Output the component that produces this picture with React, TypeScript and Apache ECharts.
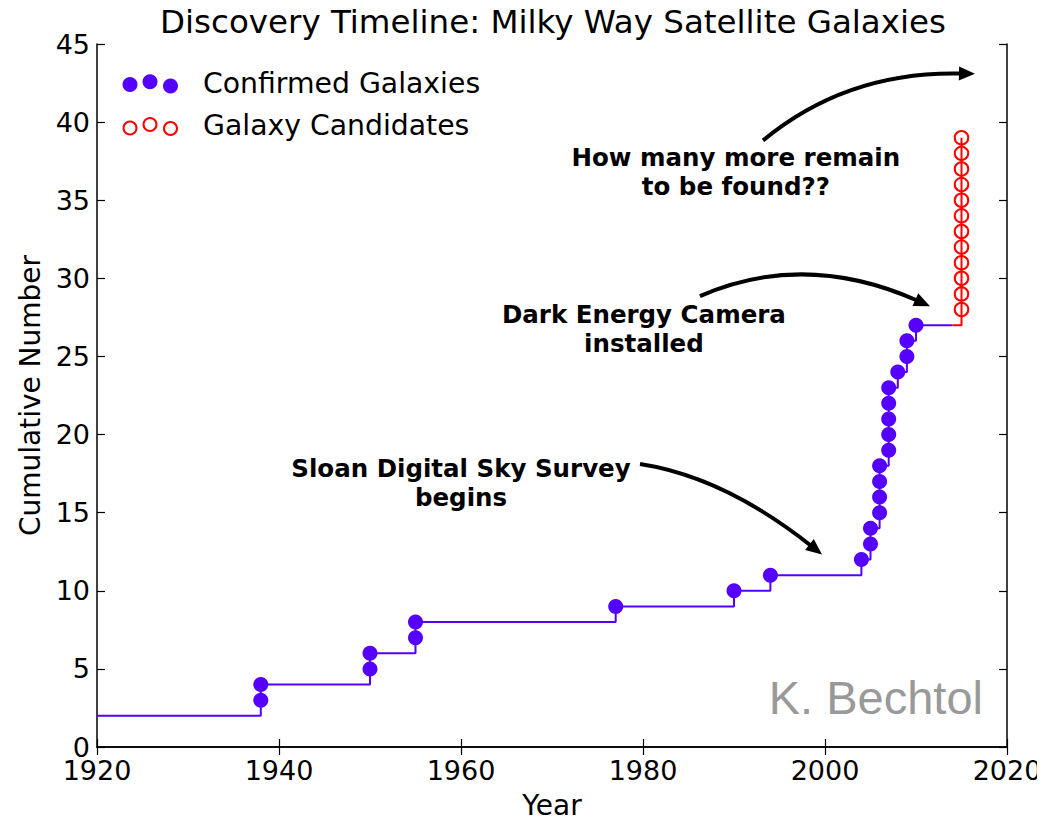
import React, { useEffect, useRef } from "react";
import * as echarts from "echarts";

// ---- data ----
const confirmedYears = [1938, 1938, 1950, 1950, 1955, 1955, 1977, 1990, 1994, 2004, 2005, 2005, 2006, 2006, 2006, 2006, 2007, 2007, 2007, 2007, 2007, 2008, 2009, 2009, 2010];
const confirmedCounts = [3, 4, 5, 6, 7, 8, 9, 10, 11, 12, 13, 14, 15, 16, 17, 18, 19, 20, 21, 22, 23, 24, 25, 26, 27];
const lineStart = [1920, 2];
const confirmedLineEnd = [2014, 27];
const candidateYears = [2015, 2015, 2015, 2015, 2015, 2015, 2015, 2015, 2015, 2015, 2015, 2015];
const candidateCounts = [28, 29, 30, 31, 32, 33, 34, 35, 36, 37, 38, 39];
const candidateLineStart = [2014, 27];

const xMin = 1920, xMax = 2020, xStep = 20;
const yMin = 0, yMax = 45, yStep = 5;

const titleText = "Discovery Timeline: Milky Way Satellite Galaxies";
const xName = "Year";
const yName = "Cumulative Number";
const legendNames = ["Confirmed Galaxies", "Galaxy Candidates"];
const credit = "K. Bechtol";

// annotations in data coordinates
const annotations = [
  { text: "Sloan Digital Sky Survey\nbegins", at: [1960.0, 16.87], from: [1979.67, 18.11], ctrl: [1988.9, 17.29], to: [1999.67, 12.33] },
  { text: "Dark Energy Camera\ninstalled", at: [1980.1, 26.76], from: [1986.26, 28.86], ctrl: [1997.69, 31.78], to: [2011.54, 28.22] },
  { text: "How many more remain\nto be found??", at: [1990.2, 36.8], from: [1993.19, 38.83], ctrl: [2002.42, 43.28], to: [2016.48, 43.09] },
];

const PURPLE = "#5500ff";
const RED = "#ff0000";
const FONT = "DejaVu Sans";

export default function App() {
  const ref = useRef<HTMLDivElement>(null);
  useEffect(() => {
    if (!ref.current) return;
    const chart = echarts.init(ref.current, null, { renderer: "svg" });

    const confirmedLine = [lineStart, ...confirmedYears.map((y, i) => [y, confirmedCounts[i]]), confirmedLineEnd];
    const candidateLine = [candidateLineStart, ...candidateYears.map((y, i) => [y, candidateCounts[i]])];

    const axisLine = { show: true, lineStyle: { color: "#000", width: 1.5 } };
    const axisTick = { show: true, inside: true, length: 8, lineStyle: { color: "#000", width: 1.2 } };
    const labelStyle = { fontSize: 27, color: "#000", fontFamily: FONT };
    const nameStyle = { fontSize: 28, color: "#000", fontFamily: FONT };

    chart.setOption({
      animation: false,
      backgroundColor: "#fff",
      grid: { left: 97, top: 44, right: 38, bottom: 73, containLabel: false },
      xAxis: [
        {
          type: "value", min: xMin, max: xMax, interval: xStep, position: "bottom",
          axisLine, axisTick, splitLine: { show: false },
          axisLabel: { ...labelStyle, margin: 10, formatter: (v: number) => String(v) },
          name: xName, nameLocation: "middle", nameGap: 44, nameTextStyle: { ...nameStyle },
        },
        {
          type: "value", min: xMin, max: xMax, interval: xStep, position: "top",
          axisLine, axisTick, splitLine: { show: false }, axisLabel: { show: false },
        },
      ],
      yAxis: [
        {
          type: "value", min: yMin, max: yMax, interval: yStep, position: "left",
          axisLine, axisTick, splitLine: { show: false },
          axisLabel: { ...labelStyle, margin: 7, formatter: (v: number) => String(v) },
          name: yName, nameLocation: "middle", nameGap: 53, nameTextStyle: { ...nameStyle },
        },
        {
          type: "value", min: yMin, max: yMax, interval: yStep, position: "right",
          axisLine, axisTick, splitLine: { show: false }, axisLabel: { show: false },
        },
      ],
      series: [
        {
          type: "line", step: "end", data: confirmedLine, showSymbol: false,
          lineStyle: { color: PURPLE, width: 2 }, z: 2,
        },
        {
          type: "line", step: "end", data: candidateLine, showSymbol: false,
          lineStyle: { color: RED, width: 2 }, z: 2,
        },
        {
          type: "scatter", data: confirmedYears.map((y, i) => [y, confirmedCounts[i]]),
          symbol: "circle", symbolSize: 15, itemStyle: { color: PURPLE, opacity: 1 }, z: 3,
        },
        {
          type: "scatter", data: candidateYears.map((y, i) => [y, candidateCounts[i]]),
          symbol: "circle", symbolSize: 13.5,
          itemStyle: { color: "rgba(0,0,0,0)", borderColor: RED, borderWidth: 2, opacity: 1 }, z: 3,
        },
      ],
    });

    const px = (p: number[]) => chart.convertToPixel({ gridIndex: 0 }, p) as number[];
    const graphics: any[] = [];

    // title
    graphics.push({
      type: "text", x: 553, y: 22,
      style: { text: titleText, fill: "#000", fontSize: 32.5, fontFamily: FONT, align: "center", verticalAlign: "middle" },
    });

    // legend
    const purpleDots = [[130, 84.5], [150, 81.8], [170.5, 86]];
    purpleDots.forEach(([cx, cy]) => graphics.push({ type: "circle", shape: { cx, cy, r: 7.5 }, style: { fill: PURPLE } }));
    const redDots = [[130, 128], [150, 124.5], [170.5, 128.5]];
    redDots.forEach(([cx, cy]) => graphics.push({ type: "circle", shape: { cx, cy, r: 6.5 }, style: { fill: "none", stroke: RED, lineWidth: 2 } }));
    graphics.push({ type: "text", x: 203, y: 83, style: { text: legendNames[0], fill: "#000", fontSize: 28.3, fontFamily: FONT, align: "left", verticalAlign: "middle" } });
    graphics.push({ type: "text", x: 203, y: 125, style: { text: legendNames[1], fill: "#000", fontSize: 28.3, fontFamily: FONT, align: "left", verticalAlign: "middle" } });

    // annotations
    annotations.forEach((a) => {
      const t = px(a.at);
      graphics.push({
        type: "text", x: t[0], y: t[1],
        style: { text: a.text, fill: "#000", fontSize: 24.5, fontWeight: "bold", fontFamily: FONT, align: "center", verticalAlign: "middle", lineHeight: 29 },
      });
      const p0 = px(a.from), c = px(a.ctrl), p2 = px(a.to);
      const dx = p2[0] - c[0], dy = p2[1] - c[1];
      const len = Math.hypot(dx, dy);
      const ux = dx / len, uy = dy / len;
      const headLen = 16, headW = 7;
      const bx = p2[0] - ux * headLen, by = p2[1] - uy * headLen;
      graphics.push({
        type: "bezierCurve",
        shape: { x1: p0[0], y1: p0[1], cpx1: c[0], cpy1: c[1], x2: bx + ux * 2, y2: by + uy * 2 },
        style: { stroke: "#000", lineWidth: 4, fill: "none" },
      });
      graphics.push({
        type: "polygon",
        shape: { points: [[p2[0], p2[1]], [bx - uy * headW, by + ux * headW], [bx + uy * headW, by - ux * headW]] },
        style: { fill: "#000" },
      });
    });

    // credit
    graphics.push({
      type: "text", x: 983, y: 721,
      style: { text: credit, fill: "#999999", fontSize: 47, fontFamily: "Liberation Sans", align: "right", verticalAlign: "bottom" },
    });

    chart.setOption({ graphic: graphics });

    return () => chart.dispose();
  }, []);

  return <div ref={ref} style={{ width: 1045, height: 824, margin: -8 }} />;
}
